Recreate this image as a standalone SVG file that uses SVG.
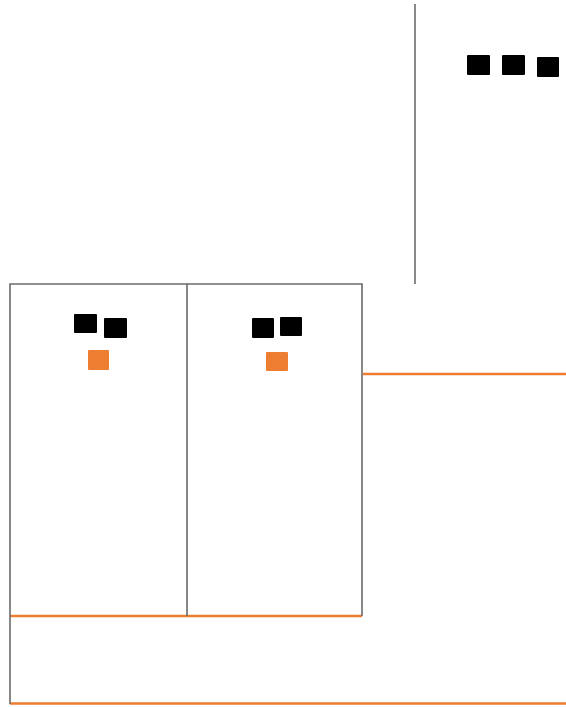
<svg xmlns="http://www.w3.org/2000/svg" width="566" height="707" viewBox="0 0 566 707">
<style>
.wall{fill:none;stroke:#6b6b6b;stroke-width:1.6}
.or{fill:none;stroke:#ed7d31;stroke-width:2.6}
.blk{fill:#000}
.osq{fill:#ed7d31}
</style>
<rect width="566" height="707" fill="#fff"/>
<g id="connectors">
<line class="or" x1="363" y1="374" x2="566" y2="374"/>
<line class="or" x1="10" y1="616" x2="362" y2="616"/>
<line class="or" x1="10" y1="703.5" x2="566" y2="703.5"/>
<line class="wall" x1="10" y1="616" x2="10" y2="704"/>
<line class="wall" x1="415" y1="4" x2="415" y2="284"/>
</g>
<g id="room-left">
<path class="wall" d="M10 616 V284 H187 V616"/>
<rect class="blk" x="74" y="314" width="23" height="19" rx="1"/>
<rect class="blk" x="104" y="318" width="23" height="20" rx="1"/>
<rect class="osq" x="88" y="350" width="21" height="20" rx="1"/>
</g>
<g id="room-right">
<path class="wall" d="M187 284 H362 V616"/>
<rect class="blk" x="252" y="318" width="22" height="20" rx="1"/>
<rect class="blk" x="280" y="317" width="22" height="19" rx="1"/>
<rect class="osq" x="266" y="352" width="22" height="19" rx="1"/>
</g>
<g id="top-right">
<rect class="blk" x="467" y="55" width="23" height="20" rx="1"/>
<rect class="blk" x="502" y="55" width="23" height="20" rx="1"/>
<rect class="blk" x="537" y="57" width="22" height="20" rx="1"/>
</g>
</svg>
